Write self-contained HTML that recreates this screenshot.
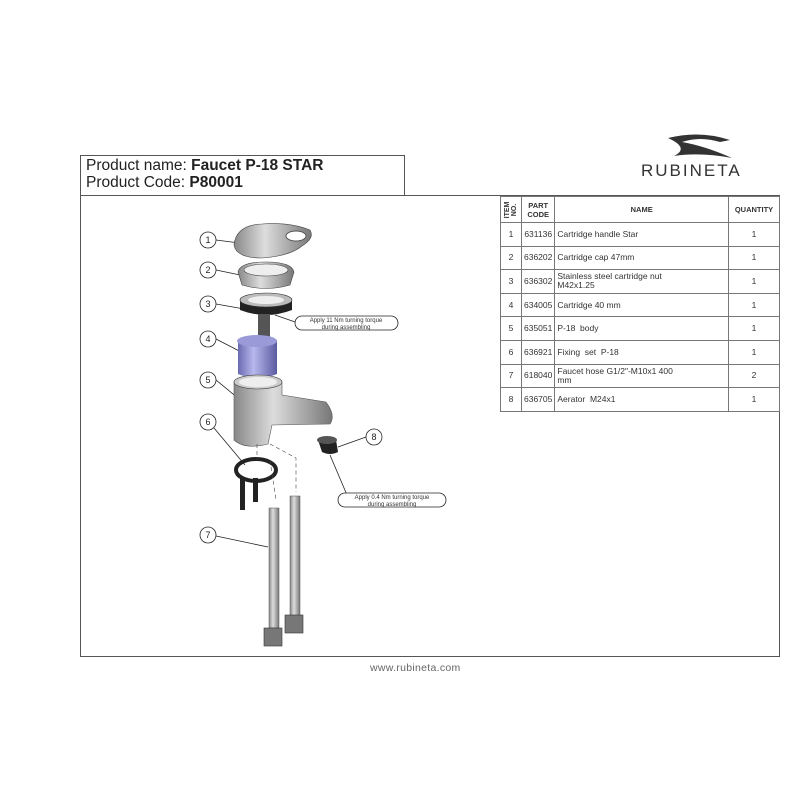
<!DOCTYPE html>
<html><head><meta charset="utf-8"><style>
body{margin:0;width:800px;height:800px;background:#fff;position:relative;font-family:"Liberation Sans",sans-serif;overflow:hidden}
.abs{position:absolute}
table{border-collapse:collapse;position:absolute;left:500px;top:196px;width:280px;font-size:8.5px;color:#333}
td{border:1px solid #777;padding:0 2px;height:22.6px;line-height:9px}
td.c{text-align:center}
th{border:1px solid #777;height:25px;font-size:7.5px;font-weight:bold;padding:0}
</style></head><body>
<div class="abs" style="left:80px;top:155px;width:323px;height:40px;border:1px solid #555;border-bottom:none"></div>
<div class="abs" style="left:86px;top:157px;font-size:15.5px;line-height:17px;color:#222">Product name: <b>Faucet P-18 STAR</b><br>Product Code: <b>P80001</b></div>
<div class="abs" style="left:80px;top:195px;width:698px;height:460px;border:1px solid #555"></div>
<svg class="abs" style="left:660px;top:130px" width="100" height="30"><path d="M8 8 Q40 0 70 10 L60 12 Q40 6 22 12 Q45 16 72 28 Q40 22 14 26 Q30 18 8 8Z" fill="#333"/></svg>
<div class="abs" style="left:641px;top:161px;font-size:17px;letter-spacing:2px;color:#333">RUBINETA</div>
<table>
<tr><th style="width:20px"><div style="transform:rotate(-90deg);font-size:7px;line-height:7px">ITEM<br>NO.</div></th><th style="width:32px">PART<br>CODE</th><th>NAME</th><th style="width:50px">QUANTITY</th></tr>
<tr><td class="c">1</td><td class="c">631136</td><td>Cartridge handle Star</td><td class="c">1</td></tr>
<tr><td class="c">2</td><td class="c">636202</td><td>Cartridge cap 47mm</td><td class="c">1</td></tr>
<tr><td class="c">3</td><td class="c">636302</td><td>Stainless steel cartridge nut<br>M42x1.25</td><td class="c">1</td></tr>
<tr><td class="c">4</td><td class="c">634005</td><td>Cartridge 40 mm</td><td class="c">1</td></tr>
<tr><td class="c">5</td><td class="c">635051</td><td>P-18 &nbsp;body</td><td class="c">1</td></tr>
<tr><td class="c">6</td><td class="c">636921</td><td>Fixing &nbsp;set &nbsp;P-18</td><td class="c">1</td></tr>
<tr><td class="c">7</td><td class="c">618040</td><td>Faucet hose G1/2"-M10x1 400<br>mm</td><td class="c">2</td></tr>
<tr><td class="c">8</td><td class="c">636705</td><td>Aerator &nbsp;M24x1</td><td class="c">1</td></tr>
</table>
<svg class="abs" style="left:0;top:0" width="800" height="800" font-family="Liberation Sans" font-size="10">
<defs><linearGradient id="m" x1="0" x2="1"><stop offset="0" stop-color="#888"/><stop offset=".4" stop-color="#ddd"/><stop offset="1" stop-color="#777"/></linearGradient>
<linearGradient id="p" x1="0" x2="1"><stop offset="0" stop-color="#6a6ab0"/><stop offset=".4" stop-color="#b8b8ee"/><stop offset="1" stop-color="#5a5aa0"/></linearGradient></defs>
<g stroke="#222" stroke-width="0.8" fill="none">
<line x1="216" y1="240" x2="255" y2="245"/><line x1="216" y1="270" x2="250" y2="277"/><line x1="216" y1="304" x2="250" y2="310"/>
<line x1="216" y1="339" x2="247" y2="355"/><line x1="216" y1="380" x2="250" y2="408"/><line x1="214" y1="428" x2="245" y2="465"/>
<line x1="216" y1="536" x2="268" y2="547"/><line x1="366" y1="437" x2="338" y2="447"/>
<line x1="275" y1="315" x2="298" y2="323"/><line x1="330" y1="455" x2="347" y2="495"/>
</g>
<g fill="#fff" stroke="#222" stroke-width="0.8">
<circle cx="208" cy="240" r="8"/><circle cx="208" cy="270" r="8"/><circle cx="208" cy="304" r="8"/><circle cx="208" cy="339" r="8"/>
<circle cx="208" cy="380" r="8"/><circle cx="208" cy="422" r="8"/><circle cx="208" cy="535" r="8"/><circle cx="374" cy="437" r="8"/>
<rect x="295" y="316" width="103" height="14" rx="7"/><rect x="338" y="493" width="108" height="14" rx="7"/>
</g>
<g font-size="9" text-anchor="middle" fill="#222"><text x="208" y="243">1</text><text x="208" y="273">2</text><text x="208" y="307">3</text><text x="208" y="342">4</text><text x="208" y="383">5</text><text x="208" y="425">6</text><text x="208" y="538">7</text><text x="374" y="440">8</text></g>
<g font-size="6" text-anchor="middle" fill="#333"><text x="346" y="322">Apply 11 Nm turning torque</text><text x="346" y="329">during assembling</text><text x="392" y="499">Apply 0.4 Nm turning torque</text><text x="392" y="506">during assembling</text></g>
<path d="M234 245 Q236 225 262 224 Q290 222 310 230 Q315 238 302 246 Q290 256 262 258 Q236 258 234 245Z" fill="url(#m)" stroke="#444" stroke-width=".6"/>
<ellipse cx="296" cy="236" rx="10" ry="5" fill="#fff" stroke="#555"/>
<path d="M238 272 Q240 262 266 262 Q292 262 294 272 L290 285 Q266 292 242 285Z" fill="url(#m)" stroke="#444" stroke-width=".6"/>
<ellipse cx="266" cy="270" rx="22" ry="6" fill="#eee" stroke="#444" stroke-width=".6"/>
<path d="M240 300 L240 310 Q266 320 292 310 L292 300Z" fill="#222"/>
<ellipse cx="266" cy="300" rx="26" ry="7" fill="#bbb" stroke="#333" stroke-width=".6"/>
<ellipse cx="266" cy="300" rx="18" ry="4" fill="#eee"/>
<rect x="258" y="314" width="12" height="24" fill="#555"/>
<path d="M238 340 L238 374 Q257 382 277 374 L277 340Z" fill="url(#p)"/>
<ellipse cx="257" cy="341" rx="20" ry="6" fill="#9a9ad8"/>
<path d="M234 382 L234 440 Q245 450 268 444 L272 425 L330 424 Q336 415 326 402 L282 395 L282 382Z" fill="url(#m)" stroke="#555" stroke-width=".6"/>
<ellipse cx="258" cy="382" rx="24" ry="7" fill="#ccc" stroke="#444" stroke-width=".6"/>
<ellipse cx="258" cy="382" rx="19" ry="5" fill="#eee"/>
<ellipse cx="256" cy="470" rx="20" ry="11" fill="none" stroke="#222" stroke-width="4"/>
<rect x="240" y="478" width="5" height="32" fill="#222"/><rect x="253" y="478" width="5" height="24" fill="#222"/>
<g stroke="#444" stroke-dasharray="4 3" stroke-width=".6" fill="none"><path d="M257 444 L257 460"/><path d="M270 444 L296 458 L296 492"/><path d="M270 460 L276 500"/></g>
<path d="M318 440 L322 452 Q330 456 338 452 L336 440Z" fill="#222"/><ellipse cx="327" cy="440" rx="10" ry="4" fill="#555"/>
<rect x="269" y="508" width="10" height="120" fill="url(#m)" stroke="#555" stroke-width=".5"/>
<rect x="290" y="496" width="10" height="120" fill="url(#m)" stroke="#555" stroke-width=".5"/>
<rect x="264" y="628" width="18" height="18" fill="#777" stroke="#333" stroke-width=".6"/>
<rect x="285" y="615" width="18" height="18" fill="#777" stroke="#333" stroke-width=".6"/>
</svg>
<div class="abs" style="left:370px;top:662px;font-size:10.5px;color:#666;letter-spacing:.3px">www.rubineta.com</div>
</body></html>
